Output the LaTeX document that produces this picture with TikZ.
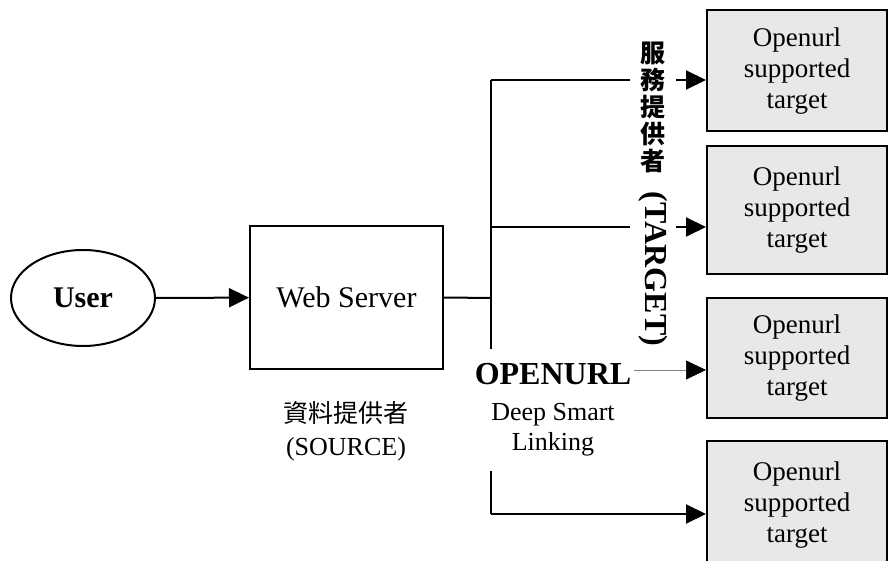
\documentclass[tikz,border=0pt]{standalone}
\usepackage{fontspec}
\setmainfont{Liberation Serif}
\newfontfamily\cjk{Noto Sans CJK TC}
\usetikzlibrary{shapes.geometric,arrows.meta}
\definecolor{boxgray}{HTML}{E8E8E8}
\begin{document}
\begin{tikzpicture}[x=1pt,y=-1pt,line width=2pt,
  arr/.style={-{Triangle[length=20pt,width=19pt]}},
  tbox/.style={draw,fill=boxgray,minimum width=180pt,align=center,inner sep=0pt,
    font=\fontsize{27}{31}\selectfont},
  lbl/.style={align=center,inner sep=0pt}]
\useasboundingbox (0,0) rectangle (889,561);
\clip (0,0) rectangle (889,561);
% nodes
\node[ellipse,draw,minimum width=144pt,minimum height=96pt,inner sep=0pt,
  font=\bfseries\fontsize{30}{36}\selectfont] (user) at (83,298) {User};
\node[draw,minimum width=193pt,minimum height=143pt,inner sep=0pt,
  font=\fontsize{30}{36}\selectfont] (ws) at (346.5,297.5) {Web Server};
\node[tbox,minimum height=121pt] (b1) at (797,71) {Openurl\\supported\\target};
\node[tbox,minimum height=128pt] (b2) at (797,210) {Openurl\\supported\\target};
\node[tbox,minimum height=119pt] (b3) at (797,358) {Openurl\\supported\\target};
\node[tbox,minimum height=128pt] (b4) at (797,505) {Openurl\\supported\\target};
% trunk coordinates
\coordinate (t1) at (491,80);
\coordinate (tm) at (491,298);
\coordinate (t2) at (491,227);
\coordinate (t3) at (491,370);
\coordinate (t4) at (491,514);
% connectors
\draw[arr] (user) -- (ws);
\draw (ws.east) -- (tm);
\draw (t1) -- (t4);
\draw[arr] (t1) -- (t1 -| b1.west);
\draw[arr] (t2) -- (t2 -| b2.west);
\draw[line width=0.6pt,gray,-{Triangle[length=20pt,width=19pt,black]}] (t3) -- (t3 -| b3.west);
\draw[arr] (t4) -- (t4 -| b4.west);
% labels
\node[lbl,font=\fontsize{26}{33}\selectfont] (src) at (346,431)
  {{\cjk\fontsize{25}{33}\selectfont 資料提供者}\\(SOURCE)};
\node[lbl,fill=white,minimum width=162pt,minimum height=122pt,
  font=\fontsize{26}{30}\selectfont] (op) at (553,410)
  {{\bfseries\fontsize{32}{34}\selectfont OPENURL}\\[6pt]Deep Smart\\Linking};
\node[lbl,fill=white,minimum width=46pt,
  font=\cjk\bfseries\fontsize{25}{27}\selectfont] (tv) at (653,107)
  {服\\務\\提\\供\\者};
\node[lbl,fill=white,minimum height=46pt,rotate=-90,
  font=\bfseries\fontsize{32}{32}\selectfont] (tt) at (653,269) {(TARGET)};
\end{tikzpicture}
\end{document}
